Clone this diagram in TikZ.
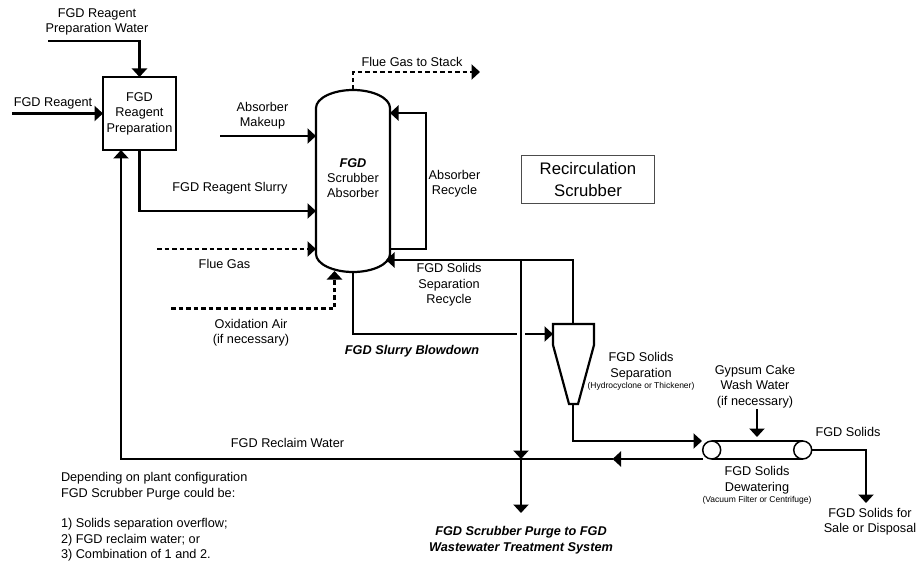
\documentclass[tikz,border=0pt]{standalone}
\usepackage{fontspec}
\setmainfont{Liberation Sans}
\usetikzlibrary{arrows.meta}
\tikzset{
  flow/.style={line width=2.2pt, -{Triangle[width=15pt,length=8.5pt]}},
  plainflow/.style={line width=2.2pt},
  gasflow/.style={flow, dash pattern=on 4.5pt off 3pt},
  vessel/.style={line width=2.2pt},
  lbl/.style={align=center, font=\fontsize{12.7}{15.4}\selectfont},
  smalllbl/.style={font=\fontsize{8.5}{10}\selectfont},
  boldlbl/.style={lbl, font=\fontsize{12.7}{16}\selectfont\bfseries\itshape}
}
\begin{document}
\begin{tikzpicture}[x=1pt, y=-1pt, every node/.style={inner sep=0pt, outer sep=0pt}]
        \useasboundingbox (0,0) rectangle (917,561);
        % Reagent preparation box
        \node[draw, line width=1.3pt, lbl, minimum size=73pt] (prep) at (139.5,113.5) {FGD\\Reagent\\Preparation};
        % Absorber vessel
        \draw[vessel] (316,108) .. controls (316,98) and (333,90) .. (353,90) .. controls (373,90) and (390,98) .. (390,108)
          -- (390,254) .. controls (390,264) and (373,272) .. (353,272) .. controls (333,272) and (316,264) .. (316,254) -- cycle;
        \node[lbl, font=\fontsize{12.7}{15}\selectfont] (absorber) at (353,178) {\textbf{\textit{FGD}}\\Scrubber\\Absorber};
        \coordinate (stackout) at (353,90);
        \coordinate (makeupin) at (316,136);
        \coordinate (slurryin) at (316,211);
        \coordinate (gasin) at (316,249);
        \coordinate (recycleout) at (390,249);
        \coordinate (recyclein) at (390,113);
        \coordinate (solidsin) at (386,260);
        \coordinate (airin) at (334.5,271);
        \coordinate (blowout) at (353,272);
        % Cyclone
        \coordinate (cycin) at (553,334);
        \coordinate (cyctop) at (573,324);
        \coordinate (cycbot) at (573,404);
        \draw[vessel] (553,324) -- (594,324) -- (594,345) -- (578,404) -- (569,404) -- (553,345) -- cycle;
        % Vacuum filter
        \foreach \name/\x in {beltl/711.7, beltr/802.7} {
          \node[draw, line width=1.5pt, circle, minimum size=18pt] (\name) at (\x,450) {};
        }
        \draw[line width=1.5pt] (beltl.north) -- (beltr.north);
        \draw[line width=1.5pt] (beltl.south) -- (beltr.south);
        \coordinate (beltin) at (702,441);
        \coordinate (beltout) at (703,459);
        % Free ends and junctions
        \coordinate (waterstart) at (48,41);
        \coordinate (reagentstart) at (12,113.5);
        \coordinate (makeupstart) at (220,136);
        \coordinate (gasstart) at (157,249);
        \coordinate (airstart) at (171,308.5);
        \coordinate (stackend) at (480,72);
        \coordinate (purgetop) at (521,260);
        \coordinate (purgejoin) at (521,459);
        \coordinate (purgeend) at (521,513);
        \coordinate (reclaimmid) at (612.5,459);
        \coordinate (reclaimin) at (121,150);
        \coordinate (washstart) at (757,409);
        \coordinate (washend) at (757,437);
        \coordinate (solidsend) at (866,503);
        \coordinate (gapleft) at (516.5,334);
        \coordinate (gapright) at (525,334);
        % Streams
        \draw[flow] (waterstart) -| (prep.north);
        \draw[flow] (reagentstart) -- (prep.west);
        \draw[flow] (prep.south) |- (slurryin);
        \draw[flow] (makeupstart) -- (makeupin);
        \draw[gasflow] (gasstart) -- (gasin);
        \draw[gasflow] (airstart) -| (airin);
        \draw[gasflow] (stackout) |- (stackend);
        \draw[flow] (recycleout) -- (426,249) -- (426,113) -- (recyclein);
        \draw[flow] (cyctop) |- (solidsin);
        \draw[flow] (purgetop) -- (purgejoin);
        \draw[flow] (purgejoin) -- (purgeend);
        \draw[plainflow] (blowout) |- (gapleft);
        \draw[flow] (gapright) -- (cycin);
        \draw[flow] (cycbot) |- (beltin);
        \draw[flow] (beltout) -- (reclaimmid);
        \draw[flow] (reclaimmid) -| (reclaimin);
        \draw[flow] (washstart) -- (washend);
        \draw[flow] (beltr.east) -| (solidsend);
        % Labels
        \node[lbl] (waterlbl) at (97,22) {FGD Reagent\\Preparation Water};
        \node[lbl] (reagentlbl) at (53,103.5) {FGD Reagent};
        \node[lbl] (makeuplbl) at (262.5,116) {Absorber\\Makeup};
        \node[lbl] (slurrylbl) at (230,188.5) {FGD Reagent Slurry};
        \node[lbl] (stacklbl) at (412,61.5) {Flue Gas to Stack};
        \node[lbl] (recyclelbl) at (454.5,184) {Absorber\\Recycle};
        \node[lbl] (gaslbl) at (224.5,263.5) {Flue Gas};
        \node[lbl] (airlbl) at (251,332.5) {Oxidation Air\\(if necessary)};
        \node[lbl] (solidsrecyclelbl) at (449,285) {FGD Solids\\Separation\\Recycle};
        \node[boldlbl] (blowlbl) at (412,351) {FGD Slurry Blowdown};
        \node[lbl, font=\fontsize{12.7}{16}\selectfont] (seplbl) at (641,366) {FGD Solids\\Separation};
        \node[smalllbl] (sepsmall) at (641,386) {(Hydrocyclone or Thickener)};
        \node[lbl] (washlbl) at (755,386.5) {Gypsum Cake\\Wash Water\\(if necessary)};
        \node[lbl] (solidslbl) at (848,432) {FGD Solids};
        \node[lbl, font=\fontsize{12.7}{16}\selectfont] (dewaterlbl) at (757,480) {FGD Solids\\Dewatering};
        \node[smalllbl] (dewatersmall) at (757,500) {(Vacuum Filter or Centrifuge)};
        \node[lbl] (salelbl) at (870,522) {FGD Solids for\\Sale or Disposal};
        \node[boldlbl] (purgelbl) at (521,540.5) {FGD Scrubber Purge to FGD\\Wastewater Treatment System};
        \node[lbl] (reclaimlbl) at (287.5,443) {FGD Reclaim Water};
        \node[lbl, align=left, anchor=north west] (notelbl) at (61,472.5) {Depending on plant configuration\\FGD Scrubber Purge could be:\\[15.4pt]1) Solids separation overflow;\\2) FGD reclaim water; or\\3) Combination of 1 and 2.};
        % Title box
        \node[draw=black!70, line width=1pt, lbl, font=\fontsize{16.7}{21.5}\selectfont, minimum width=133.5pt, minimum height=48.5pt] (titlebox) at (588,179.75) {Recirculation\\Scrubber};
\end{tikzpicture}
\end{document}
